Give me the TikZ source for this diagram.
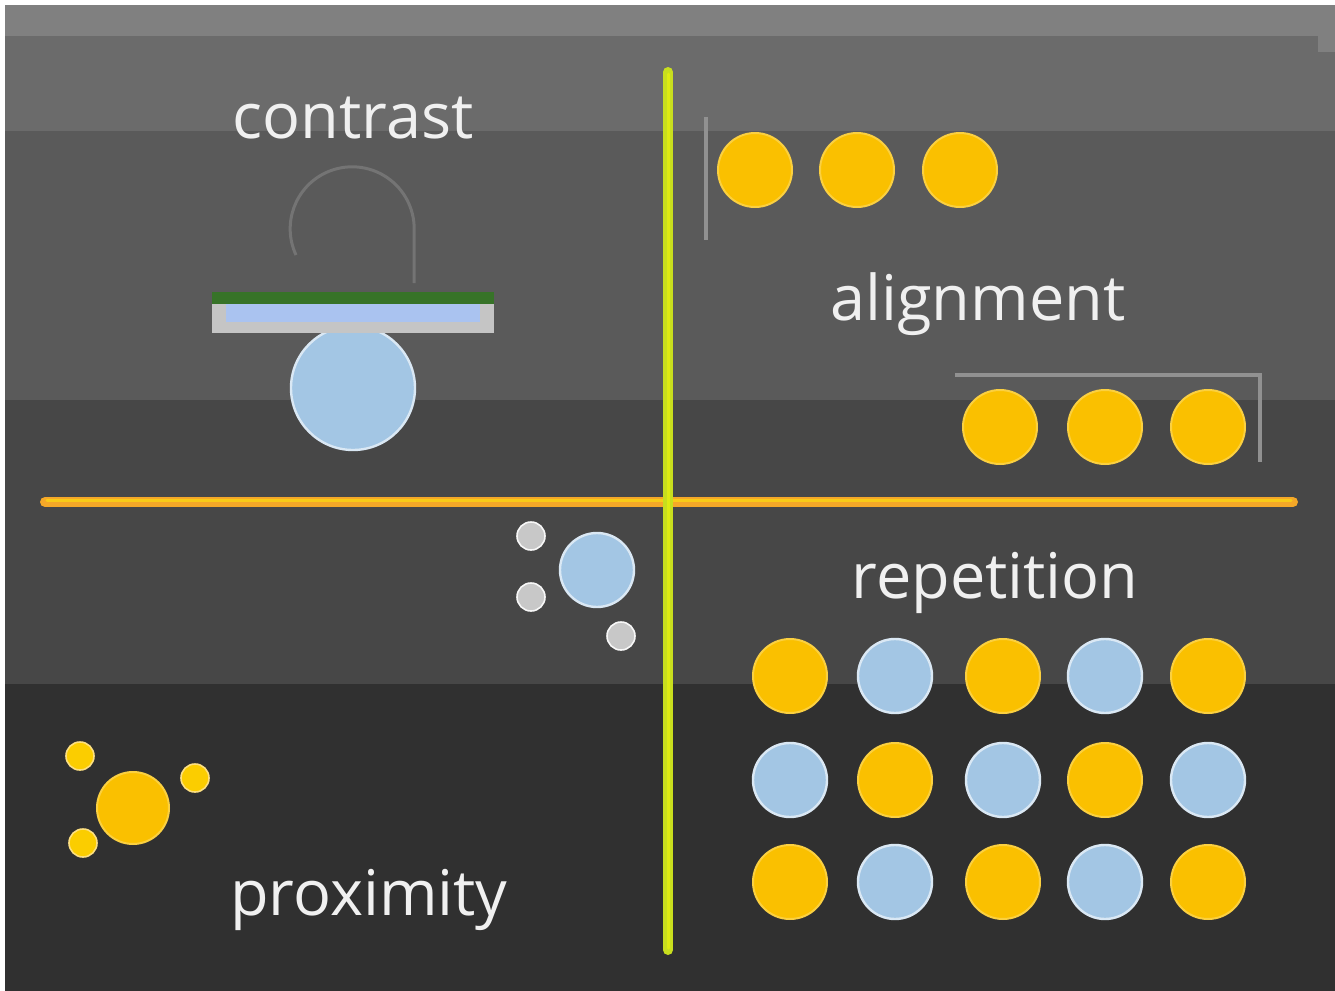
\documentclass[tikz,border=0pt]{standalone}
\usepackage{fontspec}
\setmainfont{Open Sans}
\definecolor{bandA}{RGB}{128,128,128}
\definecolor{bandB}{RGB}{107,107,107}
\definecolor{bandC}{RGB}{90,90,90}
\definecolor{bandD}{RGB}{71,71,71}
\definecolor{bandE}{RGB}{48,48,48}
\definecolor{dotyellow}{RGB}{250,192,0}
\definecolor{dotblue}{RGB}{163,198,228}
\definecolor{dotgray}{RGB}{200,200,200}
\definecolor{axisorange}{RGB}{245,168,40}
\definecolor{axisgreen}{RGB}{200,222,30}
\definecolor{guidegray}{RGB}{145,145,145}
\definecolor{bargreen}{RGB}{55,115,40}
\definecolor{barblue}{RGB}{170,195,240}
\begin{document}
\begin{tikzpicture}[x=0.5pt,y=-0.5pt,
    ydot/.style={circle,inner sep=0pt,minimum size=37pt,fill=dotyellow,draw=dotyellow!75!white,line width=1pt},
    bdot/.style={circle,inner sep=0pt,minimum size=37pt,fill=dotblue,draw=dotblue!40!white,line width=1.2pt},
    gdot/.style={circle,inner sep=0pt,minimum size=14pt,fill=dotgray,draw=white!85!dotgray,line width=0.8pt},
    ysmall/.style={circle,inner sep=0pt,minimum size=14pt,fill=dotyellow!80!yellow,draw=dotyellow!50!white,line width=0.8pt},
    heading/.style={text=white!94!black,font=\fontsize{31.5}{38}\selectfont,anchor=base,inner sep=0pt},
    guide/.style={draw=guidegray,line width=1.8pt}]
    \useasboundingbox (0,0) rectangle (1335,991);
    \fill[white] (0,0) rectangle (1335,991);
    \foreach \ya/\yb/\c in {5/36/bandA,36/131/bandB,131/400/bandC,400/684/bandD,684/991/bandE}{
      \fill[\c] (5,\ya) rectangle (1335,\yb);
    }
    \fill[bandA] (1318,36) rectangle (1335,52);

    % axes
    \draw[axisorange,line width=5pt,line cap=round] (45,502) -- (1293,502);
    \draw[axisorange!60!yellow,line width=1.5pt,line cap=round] (47,500) -- (1291,500);
    \draw[axisgreen,line width=5pt,line cap=round] (668,72) -- (668,950);
    \draw[axisgreen!60!yellow,line width=1.5pt,line cap=round] (668,74) -- (668,948);

    % contrast
    \node[heading] (tcontrast) at (353,138) {contrast};
    \draw[guidegray!80!black,line width=1.5pt] (296,255) arc[start angle=155,end angle=360,radius=62] -- (414,283);
    \node[bdot,minimum size=62pt] (cblue) at (353,388) {};
    \fill[bargreen] (212,292) rectangle (494,304);
    \fill[dotgray!105!white] (212,304) rectangle (494,333);
    \fill[barblue] (226,304) rectangle (480,322);

    % alignment
    \node[heading] (talign) at (978,320) {alignment};
    \draw[guide] (706,117) -- (706,240);
    \draw[guide] (955,375) -- (1260,375) -- (1260,462);
    \foreach \x[count=\i] in {755,857,960}{
      \node[ydot] (atop\i) at (\x,170) {};
    }
    \foreach \x[count=\i] in {1000,1105,1208}{
      \node[ydot] (abot\i) at (\x,427) {};
    }

    % repetition
    \node[heading] (trep) at (995,598) {repetition};
    \foreach \y[count=\r] in {676,780,882}{
      \foreach \x[count=\c] in {790,895,1003,1105,1208}{
        \pgfmathparse{mod(\r+\c,2)==0 ? "ydot" : "bdot"}
        \node[\pgfmathresult] (rep\r\c) at (\x,\y) {};
      }
    }

    % proximity
    \node[heading] (tprox) at (369,915) {proximity};
    \node[ydot,minimum size=36pt] (pbig) at (133,808) {};
    \node[ysmall] (ps1) at (80,756) {};
    \node[ysmall] (ps2) at (195,778) {};
    \node[ysmall] (ps3) at (83,843) {};

    % centre group
    \node[bdot] (mbig) at (597,570) {};
    \node[gdot] (ms1) at (531,536) {};
    \node[gdot] (ms2) at (531,597) {};
    \node[gdot] (ms3) at (621,636) {};
  \end{tikzpicture}
\end{document}
